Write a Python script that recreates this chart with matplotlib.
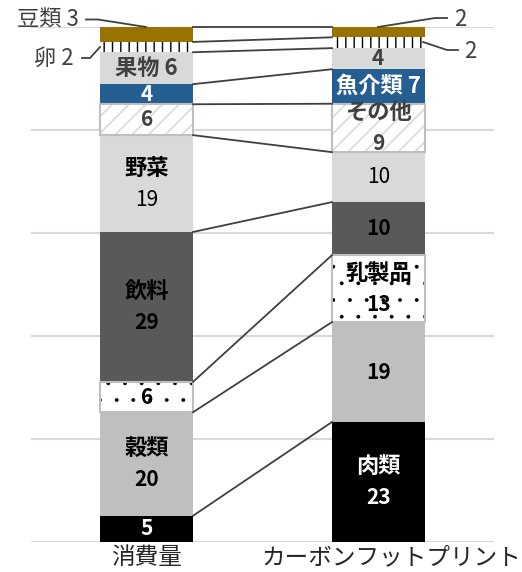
import matplotlib
matplotlib.use("Agg")
import matplotlib.pyplot as plt
import numpy as np

plt.rcParams['font.family'] = ['Noto Sans CJK JP', 'DejaVu Sans']
plt.rcParams['hatch.linewidth'] = 1.2

# ---- data ----
bars = ["消費量", "カーボンフットプリント"]
categories = ["肉類", "穀類", "乳製品", "飲料", "野菜", "その他", "魚介類", "果物", "卵", "豆類"]
consumption = [5.1, 20.1, 5.9, 29.1, 18.8, 6.0, 3.9, 6.2, 2.0, 2.9]
footprint = [23.3, 19.4, 13.0, 10.3, 9.7, 9.4, 6.7, 4.1, 2.1, 2.0]
cons_labels = ["5", "20", "6", "29", "19", "6", "4", "6", "2", "3"]
foot_labels = ["23", "19", "13", "10", "10", "9", "7", "4", "2", "2"]

# ---- styles ----
face = ["#000000", "#bfbfbf", "#ffffff", "#595959", "#d9d9d9", "#ffffff", "#255e91", "#d9d9d9", "#ffffff", "#997300"]
hatch = [None, None, ".", None, None, "//", None, None, "||", None]
hatch_col = [None, None, "#000000", None, None, "#d9d9d9", None, None, "#000000", None]
hatch_lw = [None, None, 0.3, None, None, 1.2, None, None, 1.0, None]
border = [None, None, "#bfbfbf", None, None, "#bfbfbf", None, None, None, None]

W, H = 522, 572
fig = plt.figure(figsize=(W / 100, H / 100), dpi=100)
ax = fig.add_axes([31 / W, 1 - 542 / H, (494 - 31) / W, (542 - 27) / H])
ax.set_xlim(-0.5, 1.5)
ax.set_ylim(0, 100)
for s in ax.spines.values():
    s.set_visible(False)
ax.set_yticks(np.arange(0, 101, 20))
ax.set_yticklabels([])
ax.tick_params(length=0)
ax.set_xticks([])
ax.grid(axis='y', color='#d9d9d9', lw=1.5, zorder=0)
ax.set_axisbelow(True)

bw = 0.4
xs = [0, 1]
series = [consumption, footprint]
cums = []
for xi, vals in zip(xs, series):
    bottom = 0
    tops = []
    for i, v in enumerate(vals):
        if hatch[i]:
            with plt.rc_context({'hatch.linewidth': hatch_lw[i]}):
                bc = ax.bar(xi, v, bw, bottom=bottom, color=face[i], edgecolor=hatch_col[i],
                            hatch=hatch[i], linewidth=0, zorder=2)
                for p in bc.patches:
                    if hasattr(p, 'set_hatch_linewidth'):
                        p.set_hatch_linewidth(hatch_lw[i])
            if border[i]:
                ax.bar(xi, v, bw, bottom=bottom, fill=False, edgecolor=border[i],
                       linewidth=1.5, zorder=3)
        else:
            ax.bar(xi, v, bw, bottom=bottom, color=face[i], linewidth=0, zorder=2)
        bottom += v
        tops.append(bottom)
    cums.append(tops)

# connecting lines
for a, b in zip(cums[0], cums[1]):
    ax.plot([0 + bw / 2, 1 - bw / 2], [a, b], color='#404040', lw=1.3, zorder=4,
            clip_on=False)

def center(k, i):
    vals = series[k]
    return sum(vals[:i]) + vals[i] / 2

FN = 16
FV = 15
def two(k, i, name, num, color, numweight='bold'):
    y = center(k, i)
    ax.text(xs[k], y + 3.0, name, ha='center', va='center', fontsize=FN,
            fontweight='bold', color=color, zorder=5)
    ax.text(xs[k], y - 3.1, num, ha='center', va='center', fontsize=FV,
            fontweight=numweight, color=color, zorder=5)

def one(k, i, s, color, weight='bold', size=FV):
    ax.text(xs[k], center(k, i), s, ha='center', va='center', fontsize=size,
            fontweight=weight, color=color, zorder=5)

# left bar labels
one(0, 0, cons_labels[0], 'white')
two(0, 1, categories[1], cons_labels[1], 'black')
one(0, 2, cons_labels[2], 'black')
two(0, 3, categories[3], cons_labels[3], 'black')
two(0, 4, categories[4], cons_labels[4], 'black', numweight='normal')
one(0, 5, cons_labels[5], '#404040')
one(0, 6, cons_labels[6], 'white')
one(0, 7, categories[7] + " " + cons_labels[7], '#404040', size=FN)

# right bar labels
two(1, 0, categories[0], foot_labels[0], 'white')
one(1, 1, foot_labels[1], 'black')
two(1, 2, categories[2], foot_labels[2], 'black')
one(1, 3, foot_labels[3], 'black')
one(1, 4, foot_labels[4], 'black', weight='normal')
two(1, 5, categories[5], foot_labels[5], '#404040')
one(1, 6, categories[6] + " " + foot_labels[6], 'white', size=FN)
one(1, 7, foot_labels[7], '#404040')

# pixel -> data helpers for outside labels
def px(p):
    return -0.5 + (p - 31) / 463 * 2
def py(p):
    return (542 - p) / 5.15

def leader(pts):
    ax.plot([px(p[0]) for p in pts], [py(p[1]) for p in pts], color='#404040',
            lw=1.3, clip_on=False, zorder=4)

leader([(86, 19.5), (98, 19.5), (146, 27)])
ax.text(px(79), py(20), categories[9] + " " + cons_labels[9], ha='right', va='center',
        fontsize=16, color='#404040')
leader([(82, 58), (90, 58), (100, 47)])
ax.text(px(74), py(58), categories[8] + " " + cons_labels[8], ha='right', va='center',
        fontsize=16, color='#404040')
leader([(378, 27), (435, 18), (447, 18)])
ax.text(px(454), py(19), foot_labels[9], ha='left', va='center', fontsize=16,
        color='#404040')
leader([(423, 42), (447, 50), (458, 50)])
ax.text(px(464), py(51), foot_labels[8], ha='left', va='center', fontsize=16,
        color='#404040')

# category labels
ax.text(px(146), py(558), bars[0], ha='center', va='center', fontsize=17,
        color='#262626', clip_on=False)
ax.text(px(391), py(558), bars[1], ha='center', va='center', fontsize=17,
        color='#262626', clip_on=False)

fig.savefig("out.png", dpi=100)
